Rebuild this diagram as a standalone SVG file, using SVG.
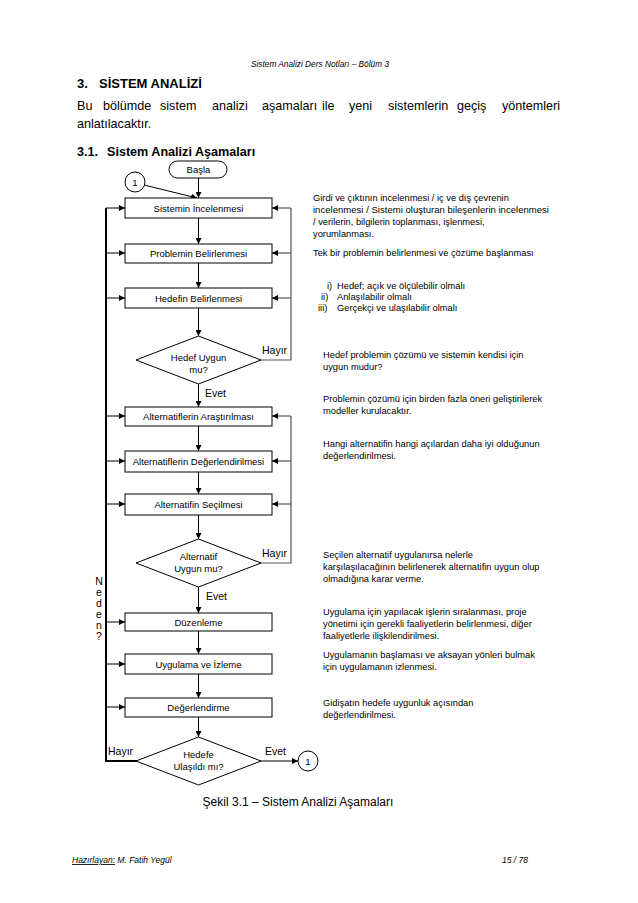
<svg xmlns="http://www.w3.org/2000/svg" width="638" height="903" viewBox="0 0 638 903">
<style>
text{font-family:"Liberation Sans",Arial,sans-serif;fill:#000}
.box{fill:#fff;stroke:#000;stroke-width:1}
.lbl{font-size:9.5px;text-anchor:middle}
.note{font-size:9.3px}
.c{fill:none;stroke:#000;stroke-width:1}
.g{fill:none;stroke:#555;stroke-width:1.2}
.thick{fill:none;stroke:#000;stroke-width:2}
.hd{font-size:10.5px}
</style>
<defs>
<marker id="ah" viewBox="0 0 10 10" refX="10" refY="5" markerWidth="6" markerHeight="6" markerUnits="userSpaceOnUse" orient="auto">
<path d="M0,0 L10,5 L0,10 z" fill="#000"/>
</marker>
</defs>
<rect width="638" height="903" fill="#fff"/>

<g id="page-text">
<text x="320" y="67" font-size="8.3" font-style="italic" text-anchor="middle">Sistem Analizi Ders Notları – Bölüm 3</text>
<text x="77" y="88" font-size="13" font-weight="bold">3.</text>
<text x="99" y="88" font-size="13" font-weight="bold">SİSTEM ANALİZİ</text>
<g font-size="12.6">
<text x="77" y="110">Bu</text>
<text x="103" y="110">bölümde</text>
<text x="160" y="110">sistem</text>
<text x="212" y="110">analizi</text>
<text x="262" y="110">aşamaları</text>
<text x="322" y="110">ile</text>
<text x="349" y="110">yeni</text>
<text x="388" y="110">sistemlerin</text>
<text x="457" y="110">geçiş</text>
<text x="560" y="110" text-anchor="end">yöntemleri</text>
<text x="77" y="128">anlatılacaktır.</text>
</g>
<text x="77" y="156" font-size="12.6" font-weight="bold">3.1.</text>
<text x="107" y="156" font-size="12.6" font-weight="bold">Sistem Analizi Aşamaları</text>
<text x="298" y="806" font-size="12" text-anchor="middle">Şekil 3.1 – Sistem Analizi Aşamaları</text>
<text x="72" y="863" font-size="8.5" font-style="italic"><tspan text-decoration="underline">Hazırlayan:</tspan> M. Fatih Yegül</text>
<text x="528" y="863" font-size="8.5" font-style="italic" text-anchor="end">15 / 78</text>
</g>

<g id="notes" class="note">
<text x="313" y="201">Girdi ve çıktının incelenmesi / iç ve dış çevrenin</text>
<text x="313" y="213" textLength="236" lengthAdjust="spacingAndGlyphs">incelenmesi / Sistemi oluşturan bileşenlerin incelenmesi</text>
<text x="313" y="225">/ verilerin, bilgilerin toplanması, işlenmesi,</text>
<text x="313" y="237">yorumlanması.</text>
<text x="313" y="256">Tek bir problemin belirlenmesi ve çözüme başlanması</text>
<text x="327" y="289">i)</text><text x="337" y="289">Hedef; açık ve ölçülebilir olmalı</text>
<text x="321" y="300">ii)</text><text x="337" y="300">Anlaşılabilir olmalı</text>
<text x="318" y="311">iii)</text><text x="337" y="311">Gerçekçi ve ulaşılabilir olmalı</text>
<text x="323" y="358">Hedef problemin çözümü ve sistemin kendisi için</text>
<text x="323" y="370">uygun mudur?</text>
<text x="323" y="402">Problemin çözümü için birden fazla öneri geliştirilerek</text>
<text x="323" y="414">modeller kurulacaktır.</text>
<text x="323" y="447">Hangi alternatifin hangi açılardan daha iyi olduğunun</text>
<text x="323" y="459">değerlendirilmesi.</text>
<text x="323" y="558">Seçilen alternatif uygulanırsa nelerle</text>
<text x="323" y="570">karşılaşılacağının belirlenerek alternatifin uygun olup</text>
<text x="323" y="582">olmadığına karar verme.</text>
<text x="323" y="615">Uygulama için yapılacak işlerin sıralanması, proje</text>
<text x="323" y="627">yönetimi için gerekli faaliyetlerin belirlenmesi, diğer</text>
<text x="323" y="639">faaliyetlerle ilişkilendirilmesi.</text>
<text x="323" y="658">Uygulamanın başlaması ve aksayan yönleri bulmak</text>
<text x="323" y="670">için uygulamanın izlenmesi.</text>
<text x="323" y="706">Gidişatın hedefe uygunluk açısından</text>
<text x="323" y="718">değerlendirilmesi.</text>
</g>

<g id="connectors">
<line class="c" x1="198.5" y1="178" x2="198.5" y2="198" marker-end="url(#ah)"/>
<line class="c" x1="144" y1="185" x2="197" y2="198" marker-end="url(#ah)"/>
<line class="c" x1="198.5" y1="218" x2="198.5" y2="244" marker-end="url(#ah)"/>
<line class="c" x1="198.5" y1="263" x2="198.5" y2="288" marker-end="url(#ah)"/>
<line class="c" x1="198.5" y1="308" x2="198.5" y2="336" marker-end="url(#ah)"/>
<line class="c" x1="198.5" y1="384" x2="198.5" y2="407" marker-end="url(#ah)"/>
<line class="c" x1="198.5" y1="426" x2="198.5" y2="451" marker-end="url(#ah)"/>
<line class="c" x1="198.5" y1="472" x2="198.5" y2="494" marker-end="url(#ah)"/>
<line class="c" x1="198.5" y1="515" x2="198.5" y2="539" marker-end="url(#ah)"/>
<line class="c" x1="198.5" y1="587" x2="198.5" y2="613" marker-end="url(#ah)"/>
<line class="c" x1="198.5" y1="631" x2="198.5" y2="654" marker-end="url(#ah)"/>
<line class="c" x1="198.5" y1="674" x2="198.5" y2="698" marker-end="url(#ah)"/>
<line class="c" x1="198.5" y1="717" x2="198.5" y2="737" marker-end="url(#ah)"/>
<!-- Hayır loop 1 -->
<polyline class="g" points="261,360 291,360 291,208"/>
<line class="g" x1="291" y1="208" x2="272" y2="208" marker-end="url(#ah)"/>
<line class="g" x1="291" y1="253" x2="272" y2="253" marker-end="url(#ah)"/>
<line class="g" x1="291" y1="298" x2="272" y2="298" marker-end="url(#ah)"/>
<!-- Hayır loop 2 -->
<polyline class="g" points="261,563 291,563 291,416"/>
<line class="g" x1="291" y1="416" x2="272" y2="416" marker-end="url(#ah)"/>
<line class="g" x1="291" y1="461" x2="272" y2="461" marker-end="url(#ah)"/>
<line class="g" x1="291" y1="504" x2="272" y2="504" marker-end="url(#ah)"/>
<!-- Hayır left loop -->
<polyline class="thick" points="137,761 106,761 106,208"/>
<line class="c" x1="106" y1="208" x2="125" y2="208" marker-end="url(#ah)"/>
<line class="c" x1="106" y1="253" x2="125" y2="253" marker-end="url(#ah)"/>
<line class="c" x1="106" y1="298" x2="125" y2="298" marker-end="url(#ah)"/>
<line class="c" x1="106" y1="416" x2="125" y2="416" marker-end="url(#ah)"/>
<line class="c" x1="106" y1="461" x2="125" y2="461" marker-end="url(#ah)"/>
<line class="c" x1="106" y1="504" x2="125" y2="504" marker-end="url(#ah)"/>
<line class="c" x1="106" y1="622" x2="125" y2="622" marker-end="url(#ah)"/>
<line class="c" x1="106" y1="664" x2="125" y2="664" marker-end="url(#ah)"/>
<line class="c" x1="106" y1="707" x2="125" y2="707" marker-end="url(#ah)"/>
<!-- Evet to connector -->
<line class="c" x1="261" y1="761" x2="298" y2="761" marker-end="url(#ah)"/>
<text class="hd" x="262" y="354">Hayır</text>
<text class="hd" x="205" y="397">Evet</text>
<text class="hd" x="262" y="557">Hayır</text>
<text class="hd" x="206" y="600">Evet</text>
<text class="hd" x="108" y="755">Hayır</text>
<text class="hd" x="265" y="755">Evet</text>
<g font-size="10.5" text-anchor="middle">
<text x="99" y="585">N</text>
<text x="99" y="596">e</text>
<text x="99" y="607">d</text>
<text x="99" y="618">e</text>
<text x="99" y="629">n</text>
<text x="99" y="640">?</text>
</g>
</g>

<g id="start"><rect class="box" x="169" y="161" width="58" height="17" rx="8.5"/><text class="lbl" x="198.5" y="173">Başla</text></g>
<g id="conn1"><circle class="box" cx="135" cy="182" r="10"/><text class="lbl" x="135" y="185.5">1</text></g>
<g id="n1"><rect class="box" x="125" y="198" width="147" height="20"/><text class="lbl" x="198.5" y="211.5">Sistemin İncelenmesi</text></g>
<g id="n2"><rect class="box" x="125" y="244" width="147" height="19"/><text class="lbl" x="198.5" y="257">Problemin Belirlenmesi</text></g>
<g id="n3"><rect class="box" x="125" y="288" width="147" height="20"/><text class="lbl" x="198.5" y="301.5">Hedefin Belirlenmesi</text></g>
<g id="d1"><polygon class="box" points="198.5,336 261,360 198.5,384 136,360"/><text class="lbl" x="198.5" y="361">Hedef Uygun</text><text class="lbl" x="198.5" y="373">mu?</text></g>
<g id="n4"><rect class="box" x="125" y="407" width="147" height="19"/><text class="lbl" x="198.5" y="420">Alternatiflerin Araştırılması</text></g>
<g id="n5"><rect class="box" x="125" y="451" width="147" height="21"/><text class="lbl" x="198.5" y="465">Alternatiflerin Değerlendirilmesi</text></g>
<g id="n6"><rect class="box" x="125" y="494" width="147" height="21"/><text class="lbl" x="198.5" y="508">Alternatifin Seçilmesi</text></g>
<g id="d2"><polygon class="box" points="198.5,539 261,563 198.5,587 136,563"/><text class="lbl" x="198.5" y="560">Alternatif</text><text class="lbl" x="198.5" y="572">Uygun mu?</text></g>
<g id="n7"><rect class="box" x="125" y="613" width="147" height="18"/><text class="lbl" x="198.5" y="625.5">Düzenleme</text></g>
<g id="n8"><rect class="box" x="125" y="654" width="147" height="20"/><text class="lbl" x="198.5" y="667.5">Uygulama ve İzleme</text></g>
<g id="n9"><rect class="box" x="125" y="698" width="147" height="19"/><text class="lbl" x="198.5" y="711">Değerlendirme</text></g>
<g id="d3"><polygon class="box" points="198.5,737 261,761 198.5,785 136,761"/><text class="lbl" x="198.5" y="758">Hedefe</text><text class="lbl" x="198.5" y="770">Ulaşıldı mı?</text></g>
<g id="conn2"><circle class="box" cx="308" cy="761" r="10"/><text class="lbl" x="308" y="764.5">1</text></g>
</svg>
